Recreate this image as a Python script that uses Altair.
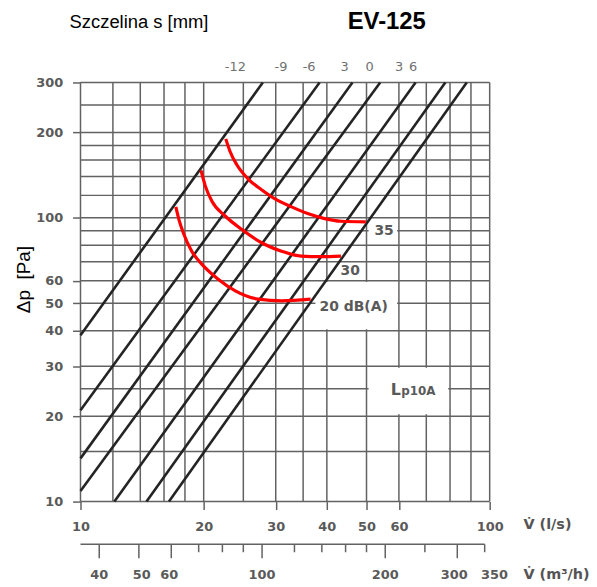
import altair as alt
import pandas as pd

# ---- data ----
v_grid = [10, 12, 14, 16, 18, 20, 25, 30, 35, 40, 50, 60, 70, 80, 90, 100]
p_grid = [10, 15, 20, 25, 30, 40, 50, 60, 70, 80, 90, 100, 120, 140, 160, 180, 200, 250, 300]

x_ticks = [10, 20, 30, 40, 50, 60, 100]
y_ticks = [10, 20, 30, 40, 50, 60, 100, 200, 300]

# slot lines (start / end points)
line_v1 = [10, 10, 10, 10, 12.1, 14.5, 16.45]
line_p1 = [38.6, 21, 14.2, 10.9, 10, 10, 10]
line_v2 = [27.9, 38.4, 46.2, 54.0, 65.9, 77.9, 87.9]
line_p2 = [300, 300, 300, 300, 300, 300, 300]

slot_labels = ["-12", "-9", "-6", "3", "0", "3", "6"]
slot_label_v = [23.9, 30.9, 36.2, 44.2, 50.9, 60.1, 65.0]

# noise curves
c20_v = [17.1, 17.4, 17.9, 18.7, 20.0, 21.7, 23.9, 27.2, 31.0, 36.5]
c20_p = [109.3, 98.6, 87.4, 76.3, 67.6, 60.8, 55.3, 51.7, 51.0, 51.7]
c30_v = [19.7, 20.2, 20.95, 22.6, 24.8, 27.7, 31.0, 34.6, 38.7, 43.3]
c30_p = [146.9, 129.1, 114.4, 101.3, 91.0, 81.7, 76.3, 73.3, 73.0, 73.3]
c35_v = [22.65, 23.2, 24.1, 25.7, 27.7, 29.9, 32.8, 35.9, 39.5, 43.3, 49.8]
c35_p = [189.8, 171.3, 153.8, 137.0, 125.7, 116.6, 109.3, 103.5, 99.4, 97.3, 96.8]

# m3/h axis
m3h_ticks = [40, 50, 60, 70, 80, 90, 100, 120, 140, 160, 180, 200, 250, 300, 350]
m3h_long = [40, 50, 60, 100, 200, 300]
m3h_labels = ["40", "50", "60", "100", "200", "300", "350"]
m3h_label_pos = [40, 50.8, 59.3, 100, 200, 295, 370]

W, H = 412, 422
GRID = "#626262"
TXT = "#5a5a5a"
FONT = "Liberation Sans"
DFONT = "DejaVu Sans"

xs = alt.Scale(type="log", domain=[10, 100], nice=False)
ys = alt.Scale(type="log", domain=[10, 300], nice=False)

# grid
vg = alt.Chart(pd.DataFrame({"v": v_grid})).mark_rule(color=GRID, strokeWidth=1.5).encode(
    x=alt.X("v:Q", scale=xs, axis=alt.Axis(values=x_ticks, grid=False, domain=False,
            tickColor=GRID, tickSize=8, tickWidth=1.5, labelColor=TXT, labelFontSize=13,
            labelFont=DFONT, labelFontWeight="bold", labelPadding=11, title=None,
            labelFlush=False))
)
hg = alt.Chart(pd.DataFrame({"p": p_grid})).mark_rule(color=GRID, strokeWidth=1.5).encode(
    y=alt.Y("p:Q", scale=ys, axis=alt.Axis(values=y_ticks, grid=False, domain=False,
            tickColor=GRID, tickSize=8, tickWidth=1.5, labelColor=TXT, labelFontSize=13,
            labelFont=DFONT, labelFontWeight="bold", labelPadding=10,
            title="Δp\u00a0\u00a0[Pa]",
            titleFont=FONT, titleFontSize=19, titleFontWeight="normal", titleColor="#000",
            titleX=-57, titleY=198, titleBaseline="middle", titleAngle=270,
            labelFlush=False))
)

# white boxes behind labels
boxes = pd.DataFrame({
    "v1": [50.6, 37.5, 50.6],
    "v2": [59.4, 59.4, 79.2],
    "p1": [81, 40.5, 20.3],
    "p2": [99, 59.4, 29.6],
})
box = alt.Chart(boxes).mark_rect(color="white").encode(
    x=alt.X("v1:Q", scale=xs), x2="v2:Q",
    y=alt.Y("p1:Q", scale=ys), y2="p2:Q",
)

lines = alt.Chart(pd.DataFrame({"v1": line_v1, "p1": line_p1, "v2": line_v2, "p2": line_p2})).mark_rule(
    color="#242424", strokeWidth=2.6).encode(
    x=alt.X("v1:Q", scale=xs), y=alt.Y("p1:Q", scale=ys), x2="v2:Q", y2="p2:Q")

curves_df = pd.concat([
    pd.DataFrame({"v": c20_v, "p": c20_p, "c": "20"}),
    pd.DataFrame({"v": c30_v, "p": c30_p, "c": "30"}),
    pd.DataFrame({"v": c35_v, "p": c35_p, "c": "35"}),
])
curves = alt.Chart(curves_df).mark_line(color="#ff0000", strokeWidth=3.2, interpolate="monotone").encode(
    x=alt.X("v:Q", scale=xs), y=alt.Y("p:Q", scale=ys), detail="c:N")

lab_df = pd.DataFrame({"v": [55.2, 45.6], "p": [90.2, 65.1], "t": ["35", "30"]})
labs = alt.Chart(lab_df).mark_text(font=DFONT, fontSize=14, fontWeight="bold", color=TXT).encode(
    x=alt.X("v:Q", scale=xs), y=alt.Y("p:Q", scale=ys), text="t:N")
lab20 = alt.Chart(pd.DataFrame({"v": [38.4], "p": [48.4], "t": ["20 dB(A)"]})).mark_text(
    font=DFONT, fontSize=14, fontWeight="bold", color=TXT, align="left").encode(
    x=alt.X("v:Q", scale=xs), y=alt.Y("p:Q", scale=ys), text="t:N")
labL = alt.Chart(pd.DataFrame({"v": [57.3], "p": [23.8], "t": ["L"]})).mark_text(
    font=DFONT, fontSize=16, fontWeight="bold", color=TXT, align="left", baseline="alphabetic").encode(
    x=alt.X("v:Q", scale=xs), y=alt.Y("p:Q", scale=ys), text="t:N")
labP = alt.Chart(pd.DataFrame({"v": [60.8], "p": [23.8], "t": ["p10A"]})).mark_text(
    font=DFONT, fontSize=12, fontWeight="bold", color=TXT, align="left", baseline="alphabetic").encode(
    x=alt.X("v:Q", scale=xs), y=alt.Y("p:Q", scale=ys), text="t:N")

# slot labels above the plot
slot = alt.Chart(pd.DataFrame({"v": slot_label_v, "t": slot_labels})).mark_text(
    font=DFONT, fontSize=13, color="#707070").encode(
    x=alt.X("v:Q", scale=xs), y=alt.value(-16), text="t:N")

# headings
head1 = alt.Chart(pd.DataFrame({"t": ["Szczelina s [mm]"]})).mark_text(
    font=FONT, fontSize=18.5, color="#000", align="left").encode(
    x=alt.value(-11), y=alt.value(-61), text="t:N")
head2 = alt.Chart(pd.DataFrame({"t": ["EV-125"]})).mark_text(
    font=FONT, fontSize=24, fontWeight="bold", color="#000", align="left").encode(
    x=alt.value(269), y=alt.value(-61), text="t:N")

# axis titles at right
vls = alt.Chart(pd.DataFrame({"t": ["V̇ (l/s)"]})).mark_text(font=DFONT, fontSize=14.5, fontWeight="bold",
    color="#555", align="left").encode(x=alt.value(446), y=alt.value(446), text="t:N")
vm3 = alt.Chart(pd.DataFrame({"t": ["V̇ (m³/h)"]})).mark_text(font=DFONT, fontSize=14.5, fontWeight="bold",
    color="#555", align="left").encode(x=alt.value(446), y=alt.value(496), text="t:N")

# secondary m3/h axis
m_df = pd.DataFrame({"m": m3h_ticks})
m_df["v"] = m_df["m"] / 3.6
m_df["long"] = m_df["m"].isin(m3h_long)
base_line = alt.Chart(pd.DataFrame({"a": [10], "b": [350 / 3.6]})).mark_rule(color=GRID, strokeWidth=1.5).encode(
    x=alt.X("a:Q", scale=xs), x2="b:Q", y=alt.value(465))
m_short = alt.Chart(m_df[~m_df["long"]]).mark_rule(color=GRID, strokeWidth=1.5).encode(
    x=alt.X("v:Q", scale=xs), y=alt.value(465), y2=alt.value(473))
m_long = alt.Chart(m_df[m_df["long"]]).mark_rule(color=GRID, strokeWidth=1.5).encode(
    x=alt.X("v:Q", scale=xs), y=alt.value(465), y2=alt.value(479))
ml_df = pd.DataFrame({"m": m3h_label_pos, "t": m3h_labels})
ml_df["v"] = ml_df["m"] / 3.6
m_lab = alt.Chart(ml_df).mark_text(font=DFONT, fontSize=13, fontWeight="bold", color=TXT).encode(
    x=alt.X("v:Q", scale=xs), y=alt.value(496), text="t:N")

chart = alt.layer(
    vg, hg, box, lines, curves, labs, lab20, labL, labP, slot, head1, head2, vls, vm3,
    base_line, m_short, m_long, m_lab
).properties(
    width=W, height=H,
    padding={"left": 73, "top": 73, "right": 100, "bottom": 80},
    autosize=alt.AutoSizeParams(type="none"),
).configure_view(stroke=None)

chart.save("out.html", embed_options={"renderer": "svg", "actions": False})
